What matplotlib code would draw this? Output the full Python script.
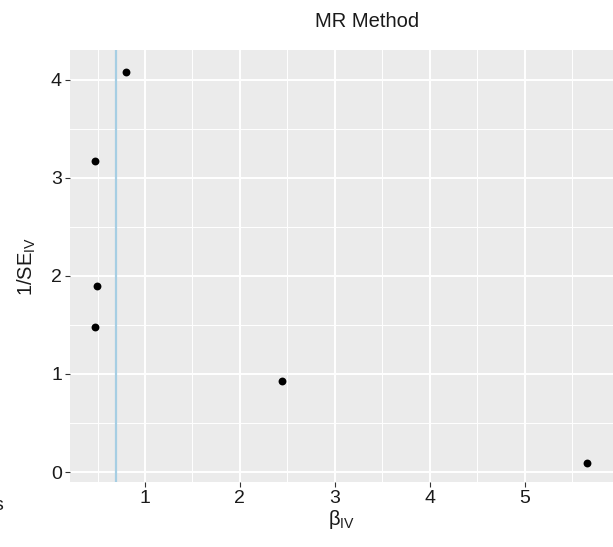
import matplotlib
matplotlib.use("Agg")
import matplotlib.pyplot as plt
import numpy as np

plt.rcParams['font.family'] = ['Liberation Sans', 'DejaVu Sans']
plt.rcParams['mathtext.fontset'] = 'custom'
plt.rcParams['mathtext.rm'] = 'Liberation Sans'
plt.rcParams['mathtext.it'] = 'Liberation Sans:italic'

# Wald-ratio estimates per instrument and their precision
beta_iv = [0.47, 0.80, 0.49, 0.47, 2.44, 5.66]
inv_se_iv = [3.17, 4.08, 1.90, 1.48, 0.93, 0.09]
ivw_estimate = 0.695

x_ticks = [1, 2, 3, 4, 5]
y_ticks = [0, 1, 2, 3, 4]

W, H = 613, 547
fig = plt.figure(figsize=(W / 100, H / 100), dpi=100)
ax = fig.add_axes([70 / W, 1 - 482 / H, 1 - 70 / W, (482 - 50) / H])
ax.set_facecolor('#EBEBEB')
for s in ax.spines.values():
    s.set_visible(False)

ax.set_xlim(0.21, 5.93)
ax.set_ylim(-0.102, 4.306)
ax.set_xticks(x_ticks)
ax.set_yticks(y_ticks)
ax.set_xticks(np.arange(0.5, 6.0, 1.0), minor=True)
ax.set_yticks(np.arange(0.5, 4.5, 1.0), minor=True)
ax.grid(which='major', color='white', linewidth=1.4)
ax.grid(which='minor', color='white', linewidth=0.7)
ax.set_axisbelow(True)
ax.tick_params(which='major', length=3.8, width=0.8, color='#333333',
               labelsize=14, labelcolor='#1a1a1a', pad=2)
ax.tick_params(which='minor', length=0)

ax.axvline(ivw_estimate, color='#A6CEE3', linewidth=1.6, zorder=2)
ax.scatter(beta_iv, inv_se_iv, s=32, color='black', zorder=3, linewidths=0)

ax.set_xlabel(r'β$_{\mathregular{IV}}$', fontsize=14.5, color='#1a1a1a', labelpad=1)
ax.set_ylabel(r'1/SE$_{\mathregular{IV}}$', fontsize=14.5, color='#1a1a1a', labelpad=9)

fig.text(315 / W, 1 - 27 / H, 'MR Method', fontsize=14.5, color='#1a1a1a',
         ha='left', va='baseline')
fig.text(-7 / W, 1 - 510 / H, 's', fontsize=14, color='#1a1a1a',
         ha='left', va='baseline')

fig.savefig('out.png', dpi=100)
